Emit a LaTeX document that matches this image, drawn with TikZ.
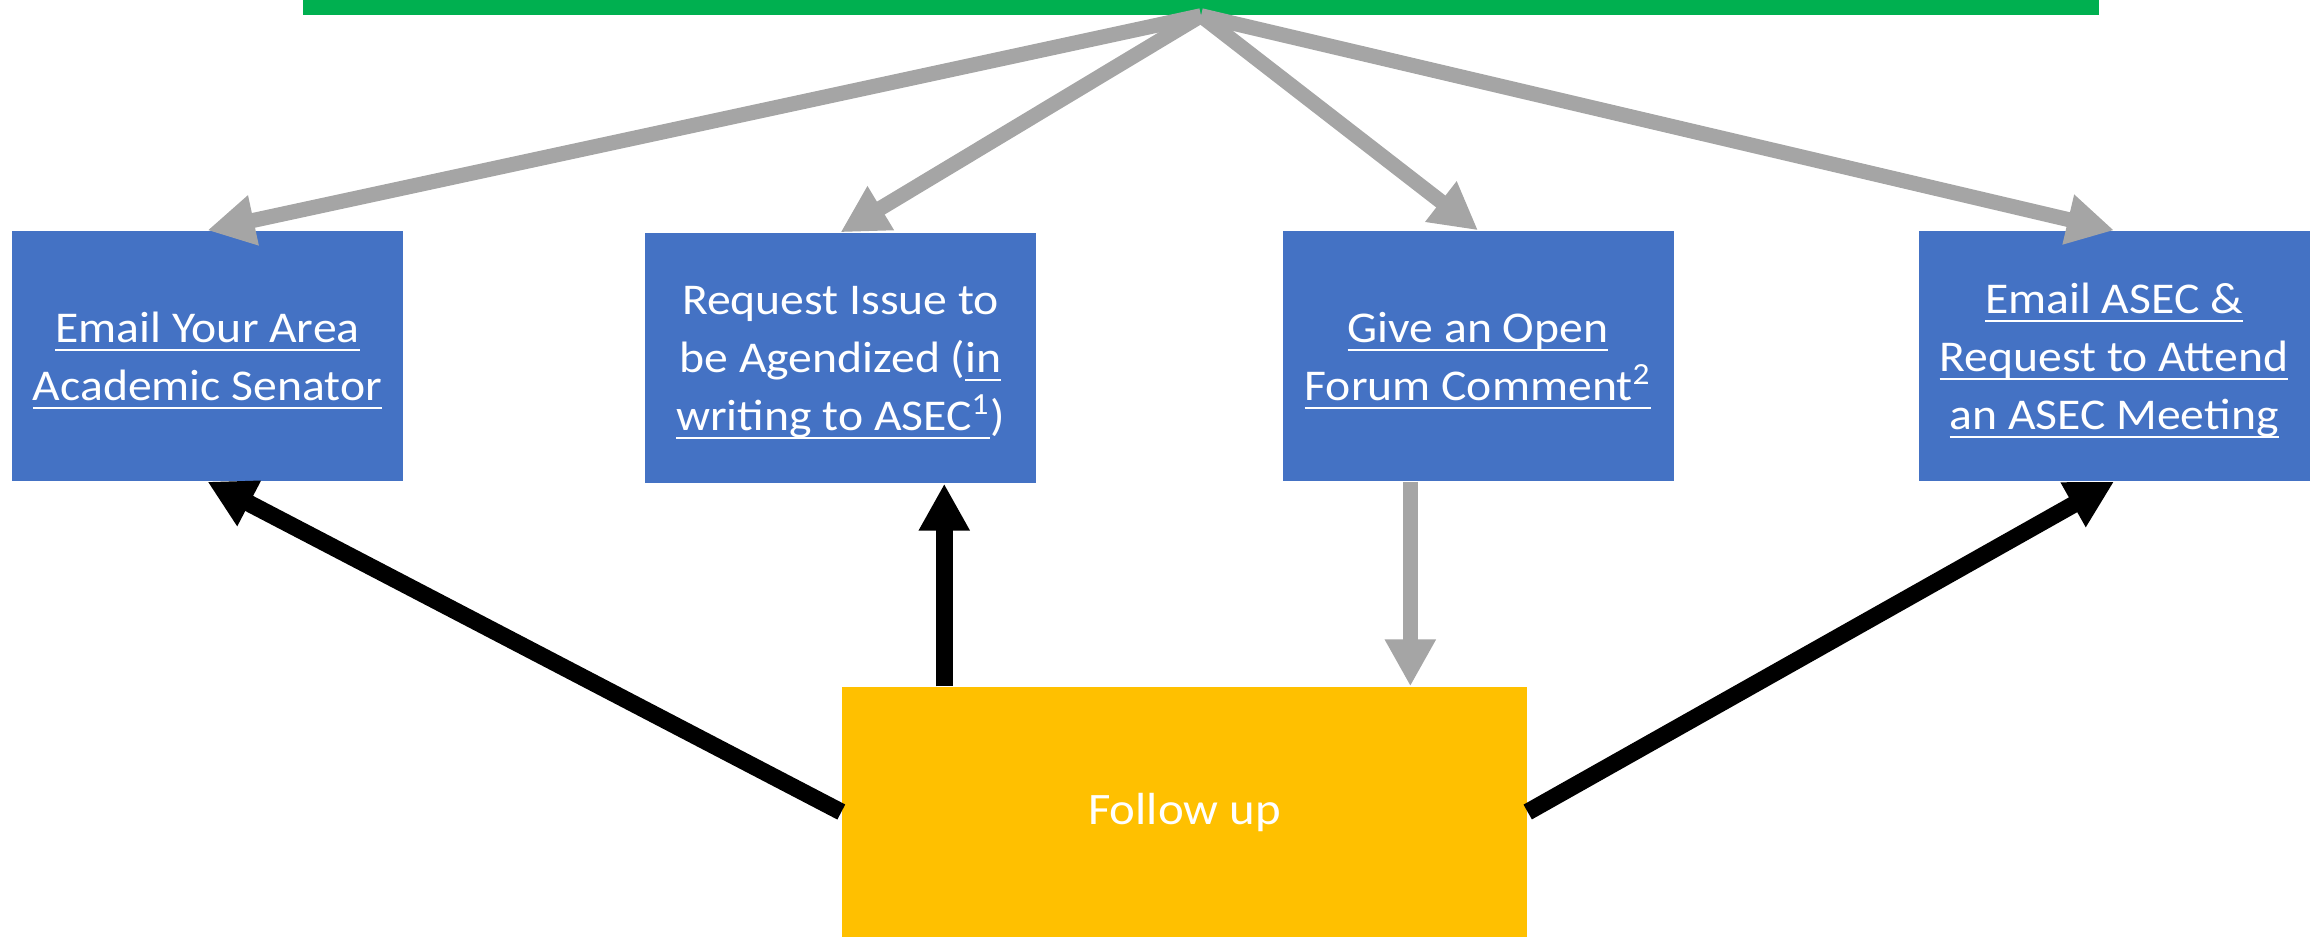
\documentclass[tikz,border=0pt]{standalone}
\usepackage{fontspec}
\setmainfont{Carlito}[FakeStretch=1.085]
\usetikzlibrary{arrows.meta,calc}
\definecolor{boxblue}{HTML}{4472C4}
\definecolor{fugold}{HTML}{FFC000}
\definecolor{bargreen}{HTML}{00B050}
\definecolor{arrgray}{HTML}{A5A5A5}
\newcommand{\ulk}[1]{\setbox0\hbox{#1}\rlap{\rule[-2.6pt]{\wd0}{0.7pt}}\box0}

\begin{document}
\begin{tikzpicture}[
  box/.style={fill=boxblue, text=white, minimum width=3.91cm, minimum height=2.5cm,
    inner sep=0pt, align=center, font=\fontsize{12.5}{16.5}\selectfont, text depth=0pt},
  grayarr/.style={arrgray, line width=0.15cm, -{Triangle[length=0.47cm,width=0.48cm]}},
  blackarr/.style={black, line width=0.17cm, -{Triangle[length=0.47cm,width=0.48cm]}}
]
\useasboundingbox (0,0) rectangle (23.21,9.37);
\node[fill=bargreen, minimum width=17.96cm, minimum height=0.15cm, inner sep=0pt] (bar) at (12.01,9.295) {};
\node[box] (mail) at (2.075,5.81) {\ulk{Email Your Area}\\ \ulk{Academic Senator}};
\node[box] (req) at (8.405,5.79) {Request Issue to\\ be Agendized (\ulk{in}\\ \ulk{writing to ASEC\textsuperscript{1}})};
\node[box] (com) at (14.78,5.81) {\ulk{Give an Open}\\ \ulk{Forum Comment\textsuperscript{2}}};
\node[box] (asec) at (21.14,5.81) {\ulk{Email ASEC \&}\\ \ulk{Request to Attend}\\ \ulk{an ASEC Meeting}};
\node[fill=fugold, text=white, minimum width=6.85cm, minimum height=2.5cm, inner sep=0pt,
  font=\fontsize{12.8}{15}\selectfont] (fol) at (11.845,1.25) {Follow up};
\coordinate (upA) at ($(fol.north west)!0.15!(fol.north east)$);
\coordinate (downA) at ($(fol.north west)!0.829!(fol.north east)$);
\draw[grayarr] (bar.south) -- (mail.north);
\draw[grayarr] (bar.south) -- (req.north);
\draw[grayarr] (bar.south) -- (com.north);
\draw[grayarr] (bar.south) -- (asec.north);
\draw[grayarr] (downA |- com.south) -- (downA);
\draw[blackarr] (upA) -- (upA |- req.south);
\draw[blackarr] (fol.west) -- (mail.south);
\draw[blackarr] (fol.east) -- (asec.south);
\end{tikzpicture}
\end{document}
